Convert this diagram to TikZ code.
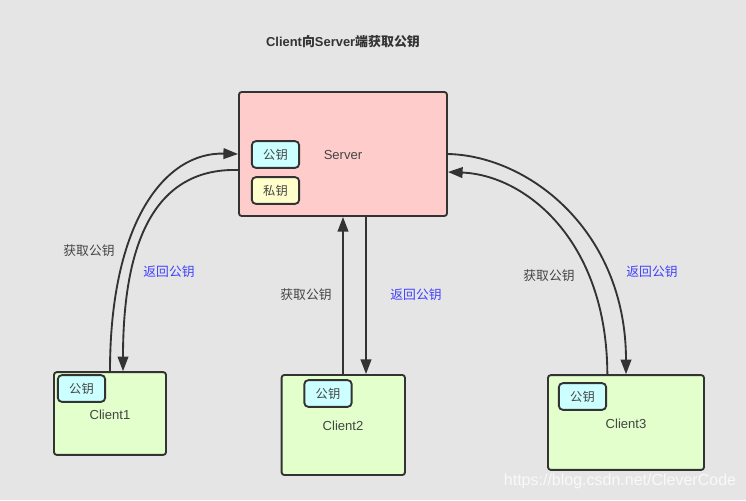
\documentclass[tikz,border=0pt]{standalone}
\usepackage{fontspec}
\setmainfont{Liberation Sans}
\newfontfamily\cjk{Noto Sans CJK SC}
\usetikzlibrary{arrows.meta, positioning}
\definecolor{bgcol}{HTML}{E5E5E5}
\definecolor{ink}{HTML}{333333}
\definecolor{textink}{HTML}{444444}
\definecolor{serverfill}{HTML}{FFCCCC}
\definecolor{clientfill}{HTML}{E2FFCC}
\definecolor{pubfill}{HTML}{CCFFFF}
\definecolor{privfill}{HTML}{FFFFCC}
\definecolor{backblue}{HTML}{4040FF}
\tikzset{
    box/.style={
        rectangle, draw=ink, line width=1.4pt, rounded corners=2pt,
        text=textink, font=\fontsize{9.8}{11}\selectfont
    },
    boxname/.style={text=textink, font=\fontsize{9.8}{11}\selectfont},
    keybox/.style={
        box, minimum width=35.5pt, minimum height=20pt, inner sep=0pt,
        rounded corners=3pt, font=\fontsize{9.2}{11}\selectfont\cjk
    },
    wire/.style={draw=ink, line width=1.4pt, -{Triangle[length=11pt,width=8pt]}},
    asklabel/.style={text=textink, font=\fontsize{9.6}{11}\selectfont\cjk},
    backlabel/.style={text=backblue, font=\fontsize{9.6}{11}\selectfont\cjk}
}
\begin{document}
\begin{tikzpicture}[x=0.75pt, y=-0.75pt]
\useasboundingbox[fill=bgcol] (0,0) rectangle (746,500);

% Title
\node[text=ink, font=\fontsize{9.7}{11}\selectfont\bfseries] (title) at (343,42) {Client{\cjk 向}Server{\cjk 端获取公钥}};

% Server
\node[box, fill=serverfill, minimum width=156pt, minimum height=93pt] (server) at (343,154) {};
\node[boxname] (servername) at (343,155) {Server};
\node[keybox, fill=pubfill] (serverpub) at (275.5,154.5) {公钥};
\node[keybox, fill=privfill] (serverpriv) at (275.5,190.5) {私钥};

% Clients
\node[box, fill=clientfill, minimum width=84pt, minimum height=62pt] (client1) at (110,413.5) {};
\node[boxname] (client1name) at (110,415) {Client1};
\node[keybox, fill=pubfill] (client1pub) at (81.5,388.5) {公钥};

\node[box, fill=clientfill, minimum width=92.5pt, minimum height=75pt] (client2) at (343.3,425) {};
\node[boxname] (client2name) at (343,426) {Client2};
\node[keybox, fill=pubfill] (client2pub) at (328,393.5) {公钥};

\node[box, fill=clientfill, minimum width=117pt, minimum height=71pt] (client3) at (626,422.5) {};
\node[boxname] (client3name) at (626,424) {Client3};
\node[keybox, fill=pubfill] (client3pub) at (582.5,396.5) {公钥};

% Requests
\draw[wire] (client1.north) .. controls (110,222) and (165,152) .. (server.west);
\draw[wire] (server.south |- client2.north) -- (server.south);
\draw[wire] ([xshift=-14pt]client3.north) .. controls (607,240) and (525,175) .. ([yshift=-13.5pt]server.east);

% Replies
\draw[wire] ([yshift=-12pt]server.west) .. controls (165,168) and (123,225) .. ([xshift=9.75pt]client1.north);
\draw[wire] ([xshift=17.25pt]server.south) -- ([xshift=17.25pt]server.south |- client2.north);
\draw[wire] (server.east) .. controls (530,156) and (626,232) .. (client3.north);

% Labels
\node[asklabel] (ask1) at (89,251) {获取公钥};
\node[backlabel] (back1) at (169,272) {返回公钥};
\node[asklabel] (ask2) at (306,295) {获取公钥};
\node[backlabel] (back2) at (416,295) {返回公钥};
\node[asklabel] (ask3) at (549,276) {获取公钥};
\node[backlabel] (back3) at (652,272) {返回公钥};

% Watermark
\node[text=white!75!bgcol, font=\fontsize{12}{14}\selectfont] (mark) at (620,481) {https://blog.csdn.net/CleverCode};
\end{tikzpicture}
\end{document}
